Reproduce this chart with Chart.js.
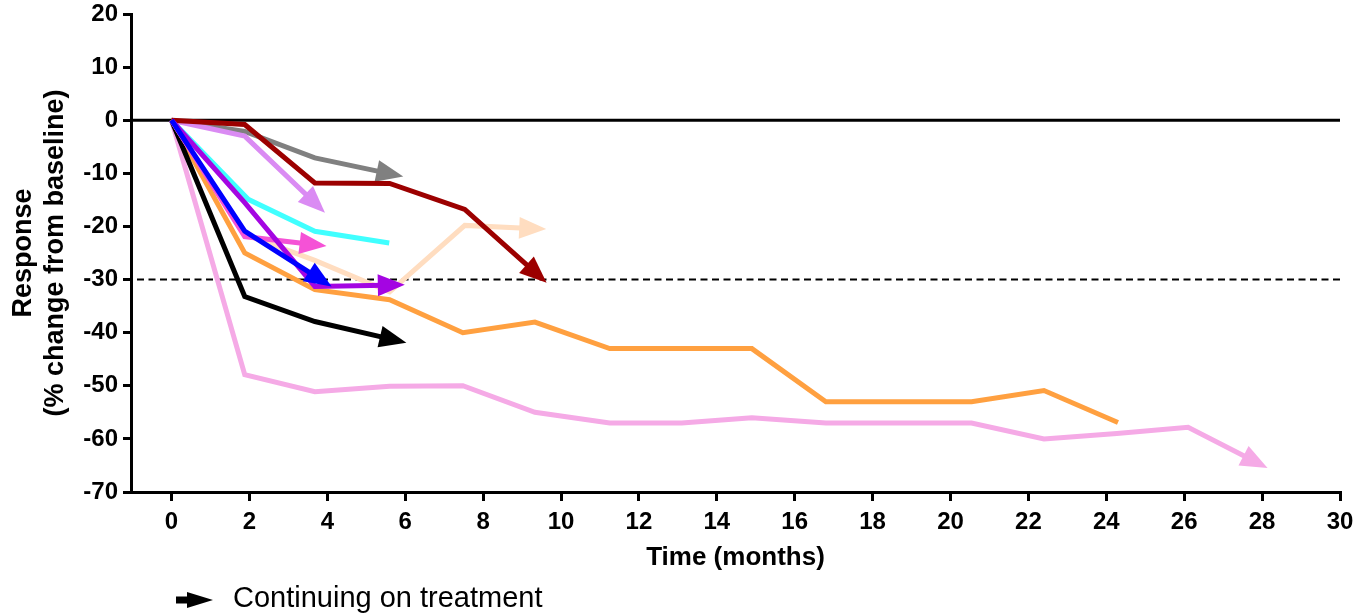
<!DOCTYPE html>
<html>
<head>
<meta charset="utf-8">
<script src="https://cdn.jsdelivr.net/npm/chart.js@4/dist/chart.umd.min.js"></script>
<style>
  html, body { margin: 0; padding: 0; background: #fff; }
  #wrap { position: relative; width: 1355px; height: 615px; }
  #legendIcon { position: absolute; left: 176px; top: 590px; }
  #legendText { position: absolute; left: 233px; top: 582px; font: 29px "Liberation Sans", Arial, sans-serif; line-height: 30px; color: #000; white-space: nowrap; }
</style>
</head>
<body>
<div id="wrap">
  <canvas id="c"></canvas>
  <svg id="legendIcon" width="40" height="20" viewBox="0 0 40 20">
    <rect x="0" y="6.5" width="13" height="7" fill="#000"></rect>
    <polygon points="11,2 37,10 11,18" fill="#000"></polygon>
  </svg>
  <div id="legendText">Continuing on treatment</div>
</div>
<script>
// ---- data (months, % change from baseline) ----
const xTicks = [0, 2, 4, 6, 8, 10, 12, 14, 16, 18, 20, 22, 24, 26, 28, 30];
const yTicks = [20, 10, 0, -10, -20, -30, -40, -50, -60, -70];

const blueT   = [0, 1.88, 4.11];
const blueV   = [0, -20.9, -31.3];
const purpleT = [0, 1.88, 3.68, 5.99];
const purpleV = [0, -15.5, -31.3, -31.0];
const hotPinkT = [0, 1.88, 3.98];
const hotPinkV = [0, -21.9, -23.7];
const darkRedT = [0, 1.88, 3.68, 5.6, 7.53, 9.63];
const darkRedV = [0, -0.8, -11.8, -11.9, -16.8, -30.6];
const violetT = [0, 1.88, 3.94];
const violetV = [0, -3.0, -17.4];
const grayT   = [0, 1.88, 3.68, 5.95];
const grayV   = [0, -2.1, -7.1, -10.6];
const cyanT   = [0, 1.97, 3.68, 5.59];
const cyanV   = [0, -14.9, -20.9, -23.1];
const peachT  = [0, 1.88, 3.68, 5.6, 7.53, 9.62];
const peachV  = [0, -21.5, -26.4, -32.3, -19.8, -20.5];
const blackT  = [0, 1.88, 3.68, 6.03];
const blackV  = [0, -33.2, -37.9, -41.9];
const orangeT = [0, 1.88, 3.68, 5.6, 7.48, 9.33, 11.25, 13.1, 14.9, 16.8, 18.67, 20.54, 22.4, 24.3];
const orangeV = [0, -25, -31.9, -33.8, -40, -38, -43, -43, -43, -53, -53, -53, -50.9, -56.9];
const lightPinkT = [0, 1.88, 3.68, 5.6, 7.48, 9.33, 11.25, 13.1, 14.9, 16.8, 18.67, 20.54, 22.4, 24.27, 26.1, 28.14];
const lightPinkV = [0, -47.9, -51.1, -50.1, -50, -55, -57, -57, -56, -57, -57, -57, -60, -59, -57.8, -65.5];

const referenceLines = [0, -30];

// series listed top-most first
const series = [
  { t: blueT,      v: blueV,      color: '#0000FF', arrow: true },
  { t: purpleT,    v: purpleV,    color: '#A405E2', arrow: true },
  { t: hotPinkT,   v: hotPinkV,   color: '#F552D6', arrow: true },
  { t: darkRedT,   v: darkRedV,   color: '#9C0000', arrow: true },
  { t: violetT,    v: violetV,    color: '#DA8BF3', arrow: true },
  { t: grayT,      v: grayV,      color: '#808080', arrow: true },
  { t: cyanT,      v: cyanV,      color: '#40FFFF', arrow: false },
  { t: peachT,     v: peachV,     color: '#FFDDC0', arrow: true },
  { t: blackT,     v: blackV,     color: '#000000', arrow: true },
  { t: orangeT,    v: orangeV,    color: '#FFA040', arrow: false },
  { t: lightPinkT, v: lightPinkV, color: '#F5AAE6', arrow: true }
];

const FONT = '"Liberation Sans", Arial, sans-serif';
const HEAD_LEN = 27, HEAD_HALF = 11;

const arrowPlugin = {
  id: 'arrows',
  afterDatasetsUpdate(chart) {
    chart.data.datasets.forEach((ds, i) => {
      const meta = chart.getDatasetMeta(i);
      meta._tip = null;
      if (!ds.arrow) return;
      const pts = meta.data;
      const n = pts.length;
      const a = pts[n - 2], b = pts[n - 1];
      const dx = b.x - a.x, dy = b.y - a.y;
      const len = Math.hypot(dx, dy) || 1;
      const ux = dx / len, uy = dy / len;
      meta._tip = { x: b.x, y: b.y, ux, uy, color: ds.borderColor };
      b.x -= ux * HEAD_LEN * 0.75;
      b.y -= uy * HEAD_LEN * 0.75;
    });
  },
  afterDatasetDraw(chart, args) {
    const t = args.meta._tip;
    if (!t) return;
    const ctx = chart.ctx;
    const bx = t.x - t.ux * HEAD_LEN, by = t.y - t.uy * HEAD_LEN;
    const nx = -t.uy, ny = t.ux;
    ctx.save();
    ctx.fillStyle = t.color;
    ctx.beginPath();
    ctx.moveTo(t.x, t.y);
    ctx.lineTo(bx + nx * HEAD_HALF, by + ny * HEAD_HALF);
    ctx.lineTo(bx - nx * HEAD_HALF, by - ny * HEAD_HALF);
    ctx.closePath();
    ctx.fill();
    ctx.restore();
  }
};

const refLinePlugin = {
  id: 'refLines',
  beforeDatasetsDraw(chart) {
    const { ctx, chartArea, scales } = chart;
    referenceLines.forEach((val) => {
      const y = scales.y.getPixelForValue(val);
      ctx.save();
      ctx.strokeStyle = '#000';
      if (val === 0) { ctx.lineWidth = 3; ctx.setLineDash([]); }
      else { ctx.lineWidth = 2; ctx.setLineDash([7, 4.5]); }
      ctx.beginPath();
      ctx.moveTo(chartArea.left + (val === 0 ? 0 : 6), y);
      ctx.lineTo(chartArea.right, y);
      ctx.stroke();
      ctx.restore();
    });
  }
};

const datasets = series.map((s) => ({
  data: s.t.map((x, i) => ({ x, y: s.v[i] })),
  borderColor: s.color,
  backgroundColor: s.color,
  borderWidth: 5,
  borderJoinStyle: 'miter',
  borderCapStyle: 'butt',
  pointRadius: 0,
  tension: 0,
  fill: false,
  arrow: s.arrow
}));

new Chart(document.getElementById('c'), {
  type: 'line',
  data: { datasets },
  plugins: [refLinePlugin, arrowPlugin],
  options: {
    responsive: true,
    maintainAspectRatio: false,
    animation: false,
    events: [],
    layout: { padding: { top: 14, right: 15, bottom: 0, left: 0 } },
    plugins: { legend: { display: false }, tooltip: { enabled: false } },
    scales: {
      x: {
        type: 'linear',
        min: -1.04,
        max: 30,
        afterBuildTicks: (s) => { s.ticks = xTicks.map((v) => ({ value: v })); },
        afterFit: (s) => { s.height = 123; s.paddingLeft = 0; s.paddingRight = 0; },
        grid: { drawOnChartArea: false, drawTicks: true, tickLength: 9, color: '#000', lineWidth: 3 },
        border: { display: true, color: '#000', width: 3 },
        ticks: { color: '#000', padding: 7, maxRotation: 0, autoSkip: false, font: { family: FONT, size: 24, weight: 'bold' } },
        title: { display: true, text: 'Time (months)', color: '#000', padding: { top: 0, bottom: 42 }, font: { family: FONT, size: 26, weight: 'bold' } }
      },
      y: {
        type: 'linear',
        min: -70,
        max: 20,
        afterBuildTicks: (s) => { s.ticks = yTicks.map((v) => ({ value: v })); },
        afterFit: (s) => { s.width = 131; s.paddingTop = 0; s.paddingBottom = 0; },
        grid: { drawOnChartArea: false, drawTicks: true, tickLength: 8, color: '#000', lineWidth: 3 },
        border: { display: true, color: '#000', width: 3 },
        ticks: { color: '#000', padding: 5, autoSkip: false, font: { family: FONT, size: 24, weight: 'bold' } },
        title: { display: true, text: ['Response', '(% change from baseline)'], color: '#000', padding: { top: 7, bottom: 0 }, font: { family: FONT, size: 27, weight: 'bold', lineHeight: 1.2 } }
      }
    }
  }
});
</script>
</body>
</html>
